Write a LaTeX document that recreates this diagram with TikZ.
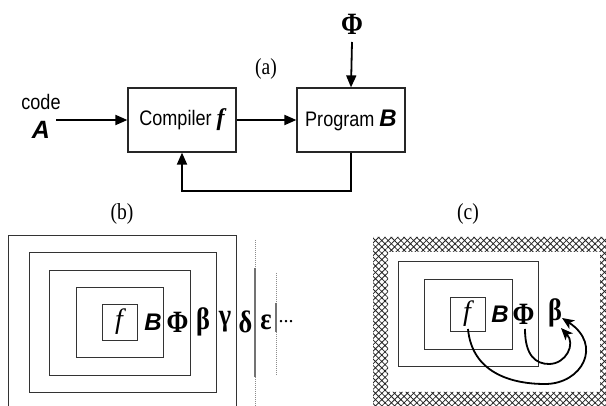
\documentclass[tikz,border=0pt]{standalone}
\usepackage{fontspec}
\setmainfont{Liberation Serif}
\setsansfont{Liberation Sans}
\newfontfamily\narrowsans[FakeStretch=0.86]{Liberation Sans}
\newfontfamily\narrowserif[FakeStretch=0.85]{Liberation Serif}
\usetikzlibrary{arrows.meta,patterns.meta}
\begin{document}
\begin{tikzpicture}[x=1pt,y=-1pt,
  boxa/.style={draw=black!85,line width=1.2pt,minimum width=108pt,minimum height=64pt,inner sep=0pt,font=\narrowsans\fontsize{21}{22}\selectfont},
  arr/.style={line width=1.8pt,-{Triangle[length=12pt,width=10pt]}},
  carr/.style={line width=1.8pt,-{Stealth[length=12pt,width=10pt,inset=3pt]}},
  nest/.style={draw=black!80,line width=0.9pt},
  sep/.style={draw=black!55,line width=1.2pt},
  dots/.style={draw=black!45,line width=0.8pt,dash pattern=on 0.8pt off 1.2pt},
  lab/.style={font=\narrowserif\fontsize{23}{24}\selectfont,inner sep=0pt},
  sym/.style={inner sep=0pt,font=\narrowserif\bfseries\fontsize{31}{32}\selectfont},
  bsym/.style={inner sep=0pt,font=\sffamily\bfseries\itshape\fontsize{24}{24}\selectfont},
  fsym/.style={inner sep=0pt,font=\itshape\fontsize{28}{28}\selectfont}]
\useasboundingbox (0,0) rectangle (606,406);
% ---------- (a)
\node[boxa] (comp) at (182,120) {Compiler {\rmfamily\bfseries\itshape\fontsize{24}{24}\selectfont f}};
\node[boxa] (prog) at (351,120) {Program {\sffamily\bfseries\itshape\fontsize{24}{24}\selectfont B}};
\node[lab] (la) at (266,69) {(a)};
\node[inner sep=0pt,font=\narrowserif\bfseries\fontsize{31}{32}\selectfont] (phi) at (352,24) {Φ};
\node[inner sep=0pt,font=\narrowsans\fontsize{21}{22}\selectfont] (code) at (41,102) {code};
\node[inner sep=0pt,font=\sffamily\bfseries\itshape\fontsize{25}{25}\selectfont] (A) at (41,130) {A};
\coordinate (ain) at (56,120);
\draw[arr] (ain) -- (comp.west);
\draw[arr] (comp.east) -- (prog.west);
\draw[arr] (352,42) -- (prog.north);
\draw[arr] (prog.south) -- (351,191) -| (comp.south);
% ---------- (b)
\node[lab] (lb) at (122,214) {(b)};
\draw[nest] (8,406) -- (8,235) -- (236,235) -- (236,406);
\draw[nest] (29,252) rectangle (216,392);
\draw[nest] (49,270) rectangle (190,375);
\draw[nest] (76,287) rectangle (163,357);
\node[nest,minimum width=35pt,minimum height=36pt,inner sep=0pt] (fb) at (119.5,322) {};
\node[fsym] (fbt) at (119,322) {f};
\node[bsym] (bb) at (153,322) {B};
\node[sym] (pb) at (177.5,322) {Φ};
\node[sym] (betab) at (203,322) {β};
\node[sym] (gammab) at (225,322) {γ};
\node[sym] (deltab) at (245.5,322) {δ};
\node[sym] (epsb) at (266,322) {ε};
\node[inner sep=0pt,font=\fontsize{20}{20}\selectfont] (ellb) at (286,322) {...};
\draw[dots] (255,240) -- (255,268);
\draw[sep] (255,268) -- (255,377);
\draw[dots] (255,377) -- (255,406);
\draw[dots] (276,273) -- (276,303);
\draw[sep] (276,303) -- (276,332);
\draw[dots] (276,332) -- (276,375);
% ---------- (c)
\node[lab] (lc) at (468,214) {(c)};
\fill[pattern={Hatch[angle=45,distance=4.5pt,line width=0.8pt]},pattern color=black!85,even odd rule]
  (373,237) rectangle (616,408) (388,252) rectangle (600,392);
\draw[nest] (398,261) rectangle (538,366);
\draw[nest] (424,279) rectangle (512,349);
\node[nest,minimum width=35pt,minimum height=34pt,inner sep=0pt] (fc) at (467.5,314) {};
\node[fsym] (fct) at (467,314) {f};
\node[bsym] (bc) at (500,314) {B};
\node[sym] (pc) at (523.5,314) {Φ};
\node[sym] (betac) at (555,313) {β};
\coordinate (c1) at (468,329);
\coordinate (c2) at (525,329);
\coordinate (t1) at (562,318);
\coordinate (t2) at (561,328);
\draw[carr] (c1) .. controls (472,372) and (510,384) .. (545,384) .. controls (582,384) and (603,345) .. (t1);
\draw[carr] (c2) .. controls (525,356) and (536,364) .. (549,364) .. controls (566,364) and (576,344) .. (t2);
\end{tikzpicture}
\end{document}
